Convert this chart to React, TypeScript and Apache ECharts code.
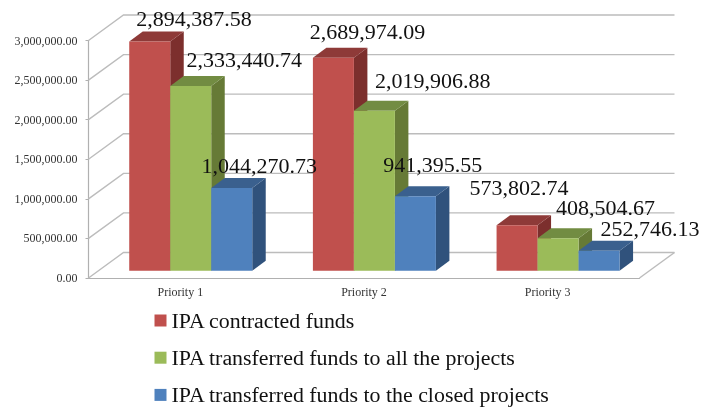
import React, { useEffect, useRef } from "react";
import * as echarts from "echarts";

const categories = ["Priority 1", "Priority 2", "Priority 3"];
const seriesNames = [
  "IPA contracted funds",
  "IPA transferred funds to all the projects",
  "IPA transferred funds to the closed projects",
];
const contracted = [2894387.58, 2689974.09, 573802.74];
const transferredAll = [2333440.74, 2019906.88, 408504.67];
const transferredClosed = [1044270.73, 941395.55, 252746.13];
const gridTicks = [0, 500000, 1000000, 1500000, 2000000, 2500000, 3000000];

const FONT = '"Liberation Serif", "Times New Roman", serif';
const faces = [
  { front: "#C0504D", top: "#8E3A38", side: "#7C2F2D" },
  { front: "#9BBB59", top: "#728C42", side: "#667A36" },
  { front: "#4F81BD", top: "#3A608E", side: "#30527C" },
];
// Hand placement of the value labels, relative to each bar's front top centre.
const labelShift = [
  [[44.3, -12], [34.2, -15], [2, -27]],
  [[53.5, -15], [58.4, -18.8], [47.5, -20]],
  [[27.5, -11.3], [17.3, -20.3], [51, -10.7]],
];

const WALL_DX = 35;
const WALL_DY = -25.5;
const BAR_DX = 10.4;
const BAR_DY = -7.3;
const BAR_W = 41;
const DEPTH_DX = 13.5;
const DEPTH_DY = -10;
const WALL_COLOR = "#BCBCBC";

const fmt = (v: number) =>
  v.toLocaleString("en-US", { minimumFractionDigits: 2, maximumFractionDigits: 2 });

function barSeries(idx: number, values: number[]) {
  return {
    type: "custom",
    name: seriesNames[idx],
    z: 3,
    itemStyle: { color: faces[idx].front },
    data: values.map((v, i) => [i, v]),
    encode: { x: 0, y: 1 },
    renderItem: (_p: any, api: any) => {
      const cat = api.value(0);
      const v = api.value(1);
      const base = api.coord([cat, 0]);
      const top = api.coord([cat, v]);
      const x0 = base[0] + BAR_DX + (idx - 1.5) * BAR_W;
      const x1 = x0 + BAR_W;
      const yb = base[1] + BAR_DY;
      const yt = top[1] + BAR_DY;
      const c = faces[idx];
      return {
        type: "group",
        children: [
          {
            type: "polygon",
            shape: {
              points: [[x1, yt], [x1 + DEPTH_DX, yt + DEPTH_DY], [x1 + DEPTH_DX, yb + DEPTH_DY], [x1, yb]],
            },
            style: { fill: c.side },
          },
          {
            type: "polygon",
            shape: {
              points: [[x0, yt], [x0 + DEPTH_DX, yt + DEPTH_DY], [x1 + DEPTH_DX, yt + DEPTH_DY], [x1, yt]],
            },
            style: { fill: c.top },
          },
          {
            type: "rect",
            shape: { x: x0, y: yt, width: BAR_W, height: yb - yt },
            style: { fill: c.front },
          },
        ],
      };
    },
  };
}

function labelSeries(idx: number, values: number[]) {
  return {
    type: "custom",
    z: 6,
    silent: true,
    data: values.map((v, i) => [i, v]),
    encode: { x: 0, y: 1 },
    renderItem: (_p: any, api: any) => {
      const cat = api.value(0);
      const v = api.value(1);
      const p = api.coord([cat, v]);
      const base = api.coord([cat, 0]);
      const cx = base[0] + BAR_DX + (idx - 1) * BAR_W;
      const s = labelShift[idx][cat];
      return {
        type: "text",
        x: cx + s[0],
        y: p[1] + BAR_DY + s[1],
        style: {
          text: fmt(v),
          fill: "#111111",
          font: `22px ${FONT}`,
          textAlign: "center",
          textVerticalAlign: "bottom",
          verticalAlign: "alphabetic",
        },
      };
    },
  };
}

const wallSeries = {
  type: "custom",
  z: 1,
  silent: true,
  data: gridTicks.map((v) => [0, v]),
  encode: { x: 0, y: 1 },
  renderItem: (params: any, api: any) => {
    const y = api.coord([0, api.value(1)])[1];
    const { x, width } = params.coordSys;
    const lineStyle = { stroke: WALL_COLOR, lineWidth: 1.4, fill: "none" };
    const children: any[] = [
      {
        type: "polyline",
        shape: {
          points: [[x, y], [x + WALL_DX, y + WALL_DY], [x + width + WALL_DX, y + WALL_DY]],
        },
        style: lineStyle,
      },
    ];
    if (api.value(1) === 0) {
      children.push({
        type: "line",
        shape: { x1: x + width + WALL_DX, y1: y + WALL_DY, x2: x + width, y2: y },
        style: lineStyle,
      });
    }
    return { type: "group", children };
  },
};

export default function App() {
  const ref = useRef<HTMLDivElement>(null);
  useEffect(() => {
    const chart = echarts.init(ref.current!, undefined, { renderer: "svg" });
    chart.setOption({
      animation: false,
      backgroundColor: "#ffffff",
      grid: { left: 88.5, top: 40.5, width: 551, height: 237.5 },
      xAxis: {
        type: "category",
        data: categories,
        axisLine: { lineStyle: { color: "#B0B0B0", width: 1.2 } },
        axisTick: { length: 4, lineStyle: { color: "#B0B0B0" } },
        axisLabel: { fontFamily: FONT, fontSize: 12, color: "#333333", margin: 8 },
      },
      yAxis: {
        type: "value",
        min: 0,
        max: 3000000,
        interval: 500000,
        axisLine: { show: true, lineStyle: { color: "#B0B0B0", width: 1.2 } },
        axisTick: { show: true, length: 3, lineStyle: { color: "#B0B0B0" } },
        splitLine: { show: false },
        axisLabel: {
          fontFamily: FONT,
          fontSize: 12,
          color: "#333333",
          margin: 11,
          formatter: (v: number) => fmt(v),
        },
      },
      legend: {
        data: seriesNames,
        orient: "vertical",
        left: 154.5,
        top: 309.5,
        width: 520,
        height: 130,
        padding: 0,
        itemWidth: 12,
        itemHeight: 12,
        itemGap: 15.2,
        icon: "rect",
        textStyle: { fontFamily: FONT, fontSize: 21.9, color: "#111111", lineHeight: 22 },
      },
      series: [
        wallSeries,
        barSeries(0, contracted),
        barSeries(1, transferredAll),
        barSeries(2, transferredClosed),
        labelSeries(0, contracted),
        labelSeries(1, transferredAll),
        labelSeries(2, transferredClosed),
      ],
    });
    return () => chart.dispose();
  }, []);
  return (
    <div
      ref={ref}
      style={{ position: "absolute", left: 0, top: 0, width: 710, height: 407, filter: "blur(0.4px)" }}
    />
  );
}
